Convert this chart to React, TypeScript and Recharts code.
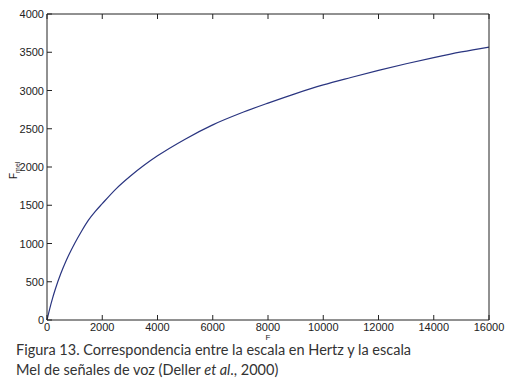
import { LineChart, Line, XAxis, YAxis } from "recharts";

// frequency in Hz vs perceived pitch in mel
const hertz = [0, 100, 200, 300, 500, 700, 1000, 1250, 1500, 1750, 2000, 2500, 3000, 3500, 4000, 5000, 6000, 7000, 8000, 9000, 10000, 11000, 12000, 13000, 14000, 15000, 16000];
const mel = [0, 150, 283, 402, 607, 781, 1000, 1161, 1306, 1420, 1521, 1715, 1876, 2019, 2146, 2364, 2551, 2702, 2835, 2960, 3073, 3170, 3263, 3350, 3430, 3504, 3568];

const xTicks = [0, 2000, 4000, 6000, 8000, 10000, 12000, 14000, 16000];
const yTicks = [0, 500, 1000, 1500, 2000, 2500, 3000, 3500, 4000];

const captionLines = [
  "Figura 13. Correspondencia entre la escala en Hertz y la escala",
  "Mel de señales de voz (Deller ",
];

const data = hertz.map((f, i) => ({ f, m: mel[i] }));

const tickFont = { fontFamily: "Liberation Sans, Arial, sans-serif", fontSize: 11, fill: "#222" };
const axisLine = { stroke: "#222", strokeWidth: 1 };

const LeftTick = (props: any) => {
  const { x, y, payload } = props;
  const ax = x + 3;
  return (
    <g>
      <line x1={ax} x2={ax + 5} y1={y} y2={y} stroke="#222" />
      <text x={x} y={y} textAnchor="end" dominantBaseline="central" {...tickFont}>
        {payload.value}
      </text>
    </g>
  );
};

const RightTick = (props: any) => {
  const { x, y } = props;
  return <line x1={x - 5} x2={x} y1={y} y2={y} stroke="#222" />;
};

const BottomTick = (props: any) => {
  const { x, y, payload } = props;
  const ay = y - 7;
  return (
    <g>
      <line x1={x} x2={x} y1={ay} y2={ay - 5} stroke="#222" />
      <text x={x} y={y} textAnchor="middle" dominantBaseline="central" {...tickFont}>
        {payload.value}
      </text>
    </g>
  );
};

const TopTick = (props: any) => {
  const { x, y } = props;
  return <line x1={x} x2={x} y1={y} y2={y + 5} stroke="#222" />;
};

const YLabel = (props: any) => {
  const { viewBox } = props;
  const x = viewBox.x + 17;
  const y = viewBox.y + viewBox.height / 2 + 12;
  return (
    <text transform={`translate(${x},${y}) rotate(-90)`} fontFamily="Liberation Sans, Arial, sans-serif" fontSize={10} fill="#222">
      F<tspan fontSize={7} dy={3}>mel</tspan>
    </text>
  );
};

const XLabel = (props: any) => {
  const { viewBox } = props;
  return (
    <text x={viewBox.x + viewBox.width / 2} y={viewBox.y + 20} textAnchor="middle" fontFamily="Liberation Sans, Arial, sans-serif" fontSize={8} fill="#222">
      F
    </text>
  );
};

export default function App() {
  return (
    <div style={{ position: "absolute", left: 0, top: 0, width: 519, height: 389, background: "#fff" }}>
      <LineChart width={519} height={345} data={data} margin={{ top: 13, right: 29, bottom: 0, left: 0 }}>
        <XAxis
          xAxisId="bottom"
          dataKey="f"
          type="number"
          domain={[0, 16000]}
          ticks={xTicks}
          height={25}
          tickSize={0}
          tickMargin={7}
          tickLine={false}
          axisLine={axisLine}
          tick={<BottomTick />}
          label={<XLabel />}
        />
        <XAxis
          xAxisId="top"
          orientation="top"
          dataKey="f"
          type="number"
          domain={[0, 16000]}
          ticks={xTicks}
          height={1}
          tickSize={0}
          tickMargin={0}
          tickLine={false}
          axisLine={axisLine}
          tick={<TopTick />}
        />
        <YAxis
          yAxisId="left"
          type="number"
          domain={[0, 4000]}
          ticks={yTicks}
          width={47}
          tickSize={0}
          tickMargin={3}
          tickLine={false}
          axisLine={axisLine}
          tick={<LeftTick />}
          label={<YLabel />}
        />
        <YAxis
          yAxisId="right"
          orientation="right"
          type="number"
          domain={[0, 4000]}
          ticks={yTicks}
          width={1}
          tickSize={0}
          tickMargin={0}
          tickLine={false}
          axisLine={axisLine}
          tick={<RightTick />}
        />
        <Line
          xAxisId="bottom"
          yAxisId="left"
          type="monotone"
          dataKey="m"
          stroke="#2a3580"
          strokeWidth={1.2}
          dot={false}
          isAnimationActive={false}
        />
      </LineChart>
      <div
        style={{
          position: "absolute",
          left: 16,
          top: 340,
          fontFamily: "Lato, 'Open Sans', sans-serif",
          fontSize: 14.5,
          lineHeight: "20px",
          color: "#333",
        }}
      >
        <div>{captionLines[0]}</div>
        <div>
          {captionLines[1]}
          <i>et al</i>., 2000)
        </div>
      </div>
    </div>
  );
}
